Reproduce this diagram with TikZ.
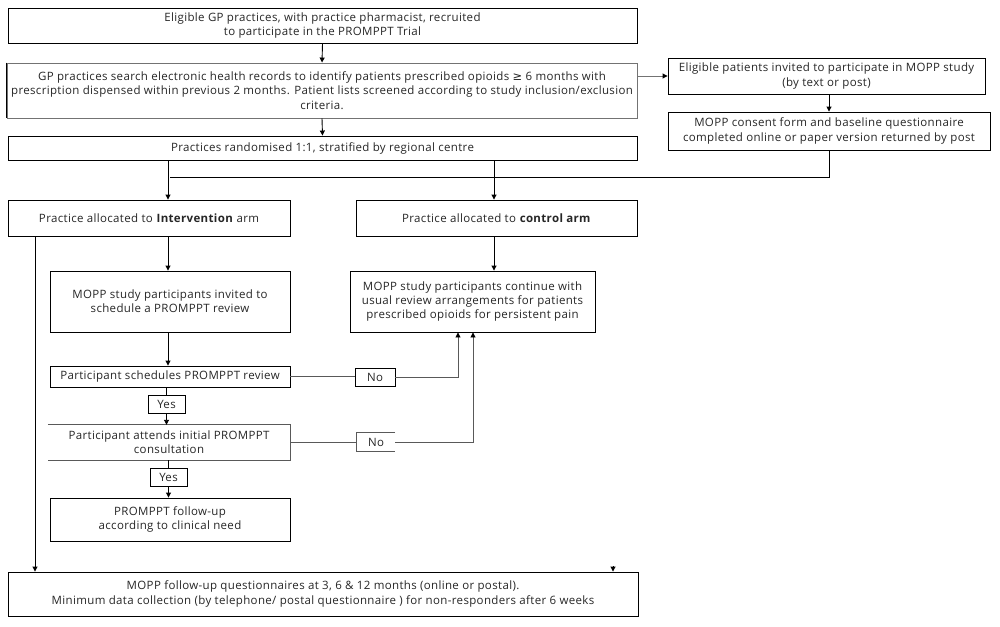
\documentclass[tikz,border=0pt]{standalone}
\usepackage{fontspec}
\setmainfont{Open Sans}[LetterSpace=3]
\newfontfamily\symfont{DejaVu Sans}
\usetikzlibrary{arrows.meta}
\begin{document}
\begin{tikzpicture}[x=1pt,y=-1pt,
  every node/.style={font=\fontsize{11.5}{14.3}\selectfont, text=black!85},
  bx/.style={draw, line width=0.9pt, align=center, inner sep=0pt, anchor=center},
  nbx/.style={align=center, inner sep=0pt, anchor=center},
  lbl/.style={draw, line width=0.9pt, align=center, inner sep=0pt, minimum width=#1, minimum height=18},
  ln/.style={line width=0.9pt},
  gln/.style={line width=0.9pt, draw=black!65},
  ar/.style={line width=0.9pt, -{Triangle[length=5pt,width=5pt,color=black]}},
  grey/.style={draw=black!55}]
\useasboundingbox (0,0) rectangle (1000,626);
\node[bx, minimum width=629, minimum height=35] (b1) at (322.5,25.5)
  {Eligible GP practices, with practice pharmacist, recruited\\ to participate in the PROMPPT Trial};
\node[bx, grey, minimum width=630, minimum height=55] (b2) at (322,90.5)
  {GP practices search electronic health records to identify patients prescribed opioids {\symfont ≥} 6 months with\\
   prescription dispensed within previous 2 months. Patient lists screened according to study inclusion/exclusion\\ criteria.};
\draw[ln] (b2.north west) -- (b2.south west);
\node[bx, minimum width=317, minimum height=36] (ra) at (826.5,76)
  {Eligible patients invited to participate in MOPP study\\ (by text or post)};
\node[bx, minimum width=322, minimum height=38] (rb) at (829,131)
  {MOPP consent form and baseline questionnaire\\ completed online or paper version returned by post};
\node[bx, minimum width=629, minimum height=24] (b3) at (322.5,148)
  {Practices randomised 1:1, stratified by regional centre};
\node[bx, minimum width=282, minimum height=36] (int) at (149,218)
  {Practice allocated to \textbf{Intervention} arm};
\node[bx, minimum width=281, minimum height=36] (ctl) at (496.5,218)
  {Practice allocated to \textbf{control arm}};
\node[bx, minimum width=240, minimum height=61] (inv) at (170,301.5)
  {MOPP study participants invited to\\ schedule a PROMPPT review};
\node[bx, minimum width=245, minimum height=61] (usual) at (472.5,301.5)
  {MOPP study participants continue with\\ usual review arrangements for patients\\ prescribed opioids for persistent pain};
\node[bx, minimum width=240, minimum height=21] (sch) at (170,376.5)
  {Participant schedules PROMPPT review};
\node[lbl=37] (yes1) at (166.5,404) {Yes};
\node[nbx, minimum width=242, minimum height=35] (att) at (169,442.5)
  {Participant attends initial PROMPPT\\ consultation};
\draw[gln] (att.north west) -- (att.north east) -- (att.south east) -- (att.south west);
\node[lbl=37] (yes2) at (168.5,477.5) {Yes};
\node[bx, minimum width=240, minimum height=43] (fu) at (170,519.5)
  {PROMPPT follow-up\\ according to clinical need};
\node[lbl=40] (no1) at (375,377) {No};
\node[nbx, minimum width=38, minimum height=18] (no2) at (376,442) {No};
\draw[gln] (no2.north east) -- (no2.north west) -- (no2.south west) -- (no2.south east);
\node[bx, minimum width=630, minimum height=44] (bot) at (323,594)
  {MOPP follow-up questionnaires at 3, 6 \& 12 months (online or postal).\\
   Minimum data collection (by telephone/ postal questionnaire ) for non-responders after 6 weeks};
% connectors
\draw[ar] (b1.south) -- (b2.north);
\draw[ar] (b2.south) -- (b3.north);
\draw[ar, draw=black!55] (b2.east |- ra.west) -- (ra.west);
\draw[ar] (ra.south -| rb.north) -- (rb.north);
\coordinate (j1) at (170,177);
\draw[ln] (rb.south) |- (j1);
\draw[ar] (b3.south -| 168,0) -- (int.north -| 168,0);
\draw[ar] (b3.south -| 494,0) -- (ctl.north -| 494,0);
\draw[ar] (int.south -| 168,0) -- (inv.north -| 168,0);
\draw[ar] (ctl.south -| 494,0) -- (usual.north -| 494,0);
\draw[ar] (int.south -| 35,0) -- (bot.north -| 35,0);
\draw[ar] (inv.south -| 168,0) -- (sch.north -| 168,0);
\draw[ln] (sch.south -| yes1) -- (yes1.north);
\draw[ar] (yes1.south) -- (att.north -| yes1);
\draw[ln] (att.south -| yes2) -- (yes2.north);
\draw[ar] (yes2.south) -- (fu.north -| yes2);
\draw[gln] (sch.east) -- (no1.west |- sch.east);
\draw[ar, draw=black!65] (no1.east) -| (usual.south -| 458,0);
\draw[gln] (att.east) -- (no2.west |- att.east);
\draw[ar, draw=black!65] (no2.east) -| (usual.south -| 473,0);
\coordinate (stub) at (613,566);
\draw[ar] (stub) -- (bot.north -| stub);
\end{tikzpicture}
\end{document}
